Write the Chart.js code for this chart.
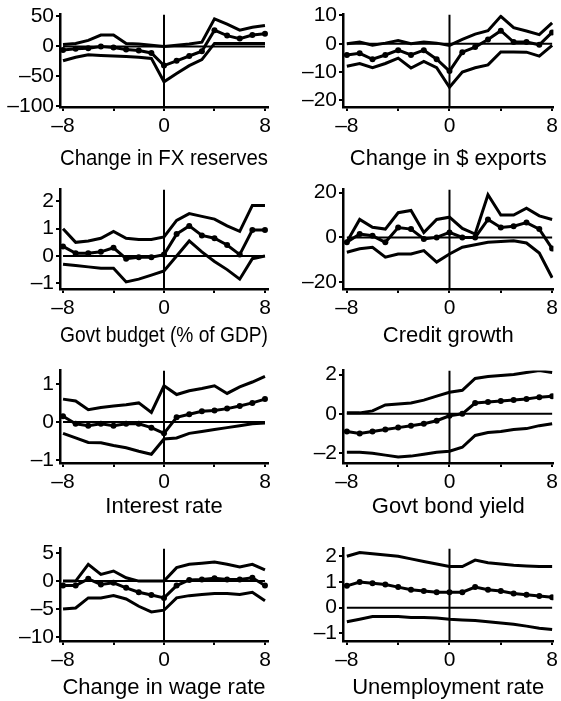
<!DOCTYPE html>
<html>
<head>
<meta charset="utf-8">
<script src="https://cdn.jsdelivr.net/npm/chart.js@4"></script>
<style>
  body { margin: 0; background: #fff; }
  #wrap { position: relative; width: 561px; height: 701px; }
  #wrap canvas { position: absolute; }
</style>
</head>
<body>
<div id="wrap"></div>
<script>
// quarters around the event
const lags = [-8, -7, -6, -5, -4, -3, -2, -1, 0, 1, 2, 3, 4, 5, 6, 7, 8];
const xTicks = [-8, -4, 0, 4, 8];

const fxUpper = [3, 5, 10, 19, 19, 5, 4, 2, 0, 2, 4, 7, 46, 37, 27, 32, 35];
const fxMean  = [-6, -4, -3, 0, -2, -5, -7, -11, -32, -24, -16, -8, 27, 18, 13, 19, 21];
const fxLower = [-24, -18, -14, -15, -16, -17, -18, -20, -59, -45, -32, -22, 5, 5, 5, 5, 5];
const fxTicks = [50, 0, -50, -100];

const exUpper = [0, 0.6, -0.5, 0.2, 1.1, 0, 0.6, 0.2, -0.6, 1.5, 3.4, 4.6, 9.7, 5.7, 4.5, 3.2, 7.4];
const exMean  = [-4, -3.4, -5.5, -4, -2.3, -4, -2.3, -5.5, -9.7, -3, -1.2, 1.5, 4.6, 0.6, 0.6, -0.4, 4];
const exLower = [-8, -7, -8.5, -7, -5.1, -8.6, -6.3, -8.5, -15.4, -10, -8.5, -7.5, -2.9, -2.9, -3, -4.4, -0.6];
const exTicks = [10, 0, -10, -20];

const budgetUpper = [1.0, 0.5, 0.55, 0.65, 0.9, 0.65, 0.6, 0.6, 0.7, 1.3, 1.55, 1.45, 1.35, 1.1, 0.9, 1.85, 1.85];
const budgetMean  = [0.35, 0.1, 0.1, 0.15, 0.3, -0.1, -0.05, -0.05, 0.05, 0.8, 1.1, 0.75, 0.65, 0.4, 0.05, 0.95, 0.95];
const budgetLower = [-0.3, -0.35, -0.4, -0.45, -0.45, -0.95, -0.85, -0.7, -0.55, 0.0, 0.55, 0.15, -0.2, -0.5, -0.85, -0.1, 0.0];
const budgetTicks = [2, 1, 0, -1];

const creditUpper = [-2, 8, 4.5, 3.7, 11, 12, 2.2, 8, 9, 4, 1.5, 19, 10, 10, 13, 9.6, 8];
const creditMean  = [-2.2, 1.5, 0.7, -2.2, 4.4, 3.7, -0.7, 0, 2.2, 0, 0, 8, 4.4, 5, 6.6, 3.7, -5];
const creditLower = [-6.6, -5.1, -4.4, -8.8, -7.4, -7.4, -5.9, -11, -7.4, -4.4, -3.3, -2.2, -1.8, -1.5, -2.5, -7, -18];
const creditTicks = [20, 10, 0, -10, -20];

const rateUpper = [0.6, 0.55, 0.32, 0.38, 0.42, 0.45, 0.5, 0.25, 0.95, 0.72, 0.82, 0.88, 0.95, 0.75, 0.92, 1.05, 1.2];
const rateMean  = [0.15, -0.05, -0.1, -0.05, -0.1, -0.05, -0.05, -0.15, -0.3, 0.12, 0.2, 0.28, 0.3, 0.35, 0.42, 0.5, 0.6];
const rateLower = [-0.3, -0.42, -0.54, -0.55, -0.62, -0.68, -0.77, -0.85, -0.45, -0.42, -0.3, -0.25, -0.2, -0.15, -0.1, -0.05, -0.03];
const rateTicks = [1, 0, -1];

const bondUpper = [0.05, 0.05, 0.15, 0.45, 0.5, 0.55, 0.7, 0.9, 1.1, 1.2, 1.8, 1.9, 1.95, 2.0, 2.1, 2.2, 2.1];
const bondMean  = [-0.9, -1.0, -0.9, -0.8, -0.7, -0.6, -0.5, -0.35, -0.1, 0.0, 0.55, 0.6, 0.65, 0.7, 0.75, 0.85, 0.9];
const bondLower = [-1.95, -1.95, -2.0, -2.1, -2.2, -2.15, -2.05, -1.95, -1.9, -1.7, -1.1, -0.95, -0.9, -0.8, -0.75, -0.6, -0.5];
const bondTicks = [2, 0, -2];

const wageUpper = [0, 0, 3.0, 1.2, 1.8, 0.6, 0, 0, 0, 2.4, 3.0, 3.2, 3.4, 3.0, 2.5, 3.0, 2.0];
const wageMean  = [-0.8, -0.8, 0.4, -0.6, -0.3, -1.2, -2.0, -2.5, -3.0, -0.8, 0.2, 0.3, 0.5, 0.3, 0.3, 0.6, -0.8];
const wageLower = [-5.0, -4.8, -3.0, -3.0, -2.6, -3.2, -4.5, -5.5, -5.2, -3.0, -2.6, -2.4, -2.2, -2.2, -2.4, -2.0, -3.5];
const wageTicks = [5, 0, -5, -10];

const unempUpper = [2.0, 2.15, 2.1, 2.05, 2.0, 1.9, 1.8, 1.7, 1.6, 1.6, 1.85, 1.75, 1.7, 1.65, 1.62, 1.6, 1.6];
const unempMean  = [0.85, 1.0, 0.95, 0.9, 0.8, 0.7, 0.65, 0.6, 0.6, 0.6, 0.8, 0.7, 0.65, 0.55, 0.5, 0.45, 0.4];
const unempLower = [-0.55, -0.45, -0.35, -0.35, -0.35, -0.38, -0.38, -0.4, -0.45, -0.48, -0.5, -0.55, -0.6, -0.65, -0.72, -0.8, -0.85];
const unempTicks = [2, 1, 0, -1];

// row geometry: top of plot, x-axis line, title centre (page px)
const rows = [
  { top: 12, axis: 107, title: 159 },
  { top: 187, axis: 289, title: 336 },
  { top: 368, axis: 463, title: 507 },
  { top: 546, axis: 641, title: 688 }
];
const cols = [
  { left: 0, width: 280, yWidth: 60, padRight: 12, xMin: -8.24, xMax: 8.24 },
  { left: 280, width: 281, yWidth: 63, padRight: 5, xMin: -8.3, xMax: 8.1 }
];

const panels = [
  { title: 'Change in FX reserves', upper: fxUpper, mean: fxMean, lower: fxLower, ticks: fxTicks, yMin: -101, yMax: 53, row: 0, col: 0 },
  { title: 'Change in $ exports', upper: exUpper, mean: exMean, lower: exLower, ticks: exTicks, yMin: -22.4, yMax: 10.3, row: 0, col: 1 },
  { title: 'Govt budget (% of GDP)', upper: budgetUpper, mean: budgetMean, lower: budgetLower, ticks: budgetTicks, yMin: -1.21, yMax: 2.43, row: 1, col: 0 },
  { title: 'Credit growth', upper: creditUpper, mean: creditMean, lower: creditLower, ticks: creditTicks, yMin: -23, yMax: 21.3, row: 1, col: 1 },
  { title: 'Interest rate', upper: rateUpper, mean: rateMean, lower: rateLower, ticks: rateTicks, yMin: -1.08, yMax: 1.35, row: 2, col: 0 },
  { title: 'Govt bond yield', upper: bondUpper, mean: bondMean, lower: bondLower, ticks: bondTicks, yMin: -2.5, yMax: 2.2, row: 2, col: 1 },
  { title: 'Change in wage rate', upper: wageUpper, mean: wageMean, lower: wageLower, ticks: wageTicks, yMin: -10.7, yMax: 5.8, row: 3, col: 0 },
  { title: 'Unemployment rate', upper: unempUpper, mean: unempMean, lower: unempLower, ticks: unempTicks, yMin: -1.3, yMax: 2.3, row: 3, col: 1 }
];

const FONT = "'Liberation Sans', Arial, Helvetica, sans-serif";
const dash = v => (v < 0 ? '\u2013' + Math.abs(v) : String(v));
const pts = arr => lags.map((x, i) => ({ x: x, y: arr[i] }));

function lineSet(data, width, radius) {
  return {
    data: data,
    borderColor: '#000',
    backgroundColor: '#000',
    borderWidth: width,
    pointRadius: radius,
    pointBorderWidth: 0,
    tension: 0,
    fill: false
  };
}

const wrap = document.getElementById('wrap');

panels.forEach(p => {
  const r = rows[p.row];
  const c = cols[p.col];
  const top = r.top - 12;
  const bottom = r.title + 13;

  const canvas = document.createElement('canvas');
  canvas.width = c.width;
  canvas.height = bottom - top;
  canvas.style.left = c.left + 'px';
  canvas.style.top = top + 'px';
  wrap.appendChild(canvas);

  new Chart(canvas, {
    type: 'line',
    data: {
      datasets: [
        lineSet([{ x: -8, y: 0 }, { x: 8, y: 0 }], 2, 0),
        lineSet([{ x: 0, y: p.yMin }, { x: 0, y: p.yMax }], 2, 0),
        lineSet(pts(p.upper), 3, 0),
        lineSet(pts(p.lower), 3, 0),
        lineSet(pts(p.mean), 3, 3)
      ]
    },
    options: {
      responsive: false,
      animation: false,
      layout: { padding: { top: 12, right: c.padRight, left: 0, bottom: 0 } },
      plugins: { legend: { display: false }, tooltip: { enabled: false } },
      scales: {
        x: {
          type: 'linear',
          min: c.xMin,
          max: c.xMax,
          afterBuildTicks: s => { s.ticks = xTicks.map(v => ({ value: v })); },
          afterFit: s => { s.height = bottom - r.axis; },
          ticks: {
            autoSkip: false,
            maxRotation: 0,
            padding: 3,
            color: '#000',
            font: { family: FONT, size: 21 },
            callback: v => (v % 8 === 0 ? dash(v) : '')
          },
          grid: { drawOnChartArea: false, color: '#000', lineWidth: 2, tickLength: 4 },
          border: { color: '#000', width: 2.5 },
          title: {
            display: true,
            text: p.title,
            color: '#000',
            padding: 0,
            font: { family: FONT, size: 22 }
          }
        },
        y: {
          type: 'linear',
          min: p.yMin,
          max: p.yMax,
          afterBuildTicks: s => { s.ticks = p.ticks.map(v => ({ value: v })); },
          afterFit: s => { s.width = c.yWidth; },
          ticks: {
            padding: 2,
            color: '#000',
            font: { family: FONT, size: 21 },
            callback: v => dash(v)
          },
          grid: { drawOnChartArea: false, color: '#000', lineWidth: 2, tickLength: 4 },
          border: { color: '#000', width: 2.5 }
        }
      }
    }
  });
});
</script>
</body>
</html>
